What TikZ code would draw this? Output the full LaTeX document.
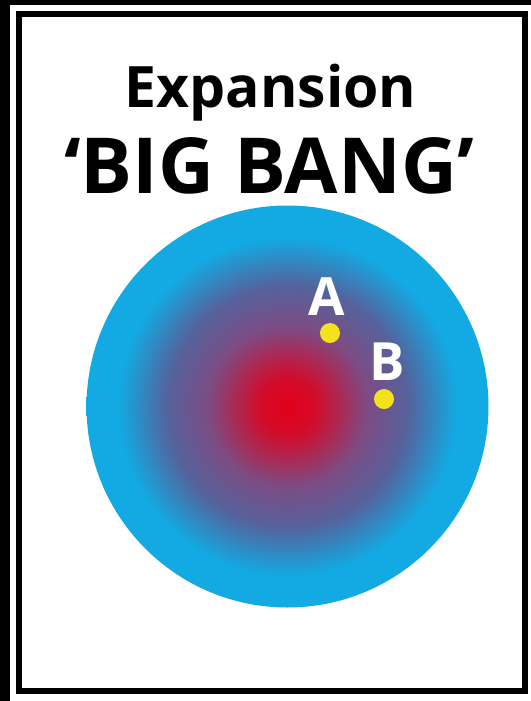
\documentclass[tikz,border=0pt]{standalone}
\usepackage{fontspec}
\setmainfont{Open Sans}
\usepackage{xcolor}
\usepackage{tikz}
\usetikzlibrary{calc, positioning}

\definecolor{bangred}{HTML}{E2001A}
\definecolor{bangmid}{HTML}{7C4C84}
\definecolor{bangslate}{HTML}{55629C}
\definecolor{bangblue}{HTML}{13A9E2}
\definecolor{dotyellow}{HTML}{F3E21C}

\pgfdeclareradialshading{bigbang}{\pgfpoint{0bp}{0bp}}{%
  color(0bp)=(bangred);
  color(3.5bp)=(bangred!85!bangmid);
  color(7bp)=(bangred!40!bangmid);
  color(10bp)=(bangmid);
  color(15bp)=(bangslate);
  color(21bp)=(bangblue);
  color(50bp)=(bangblue)}

\begin{document}
\begin{tikzpicture}[x=0.02cm, y=-0.02cm,
    titre/.style={font=\bfseries, anchor=base, inner sep=0pt},
    pointlbl/.style={font=\bfseries\fontsize{30pt}{30pt}\selectfont, text=white, anchor=base, inner sep=0pt},
    pointdot/.style={circle, fill=dotyellow, minimum size=20*0.02cm, inner sep=0pt}]
    % Khung
    \useasboundingbox (0,0) rectangle (531,701);
    \fill[white] (0,0) rectangle (531,701);
    \fill[black] (0,0) rectangle (10,701);
    \fill[black] (0,0) rectangle (531,5);
    \draw[line width=6*0.02cm] (19,14) rectangle (524.5,691);

    % Tieu de
    \node[titre, font=\bfseries\fontsize{32.5pt}{32.5pt}\selectfont] (expansion) at (270.5,107) {Expansion};
    \node[titre, font=\bfseries\fontsize{44pt}{44pt}\selectfont] (bigbang) at (269,193) {‘BIG BANG’};

    % Vu tru
    \coordinate (O) at (287.5,406.5);
    \shade[shading=bigbang] (O) circle (201);

    % Hai diem A, B
    \node[pointdot] (dotA) at (330,333) {};
    \node[pointdot] (dotB) at (384,399) {};
    \node[pointlbl] (lblA) at (327,315) {A};
    \node[pointlbl] (lblB) at (387.5,380) {B};
\end{tikzpicture}
\end{document}
